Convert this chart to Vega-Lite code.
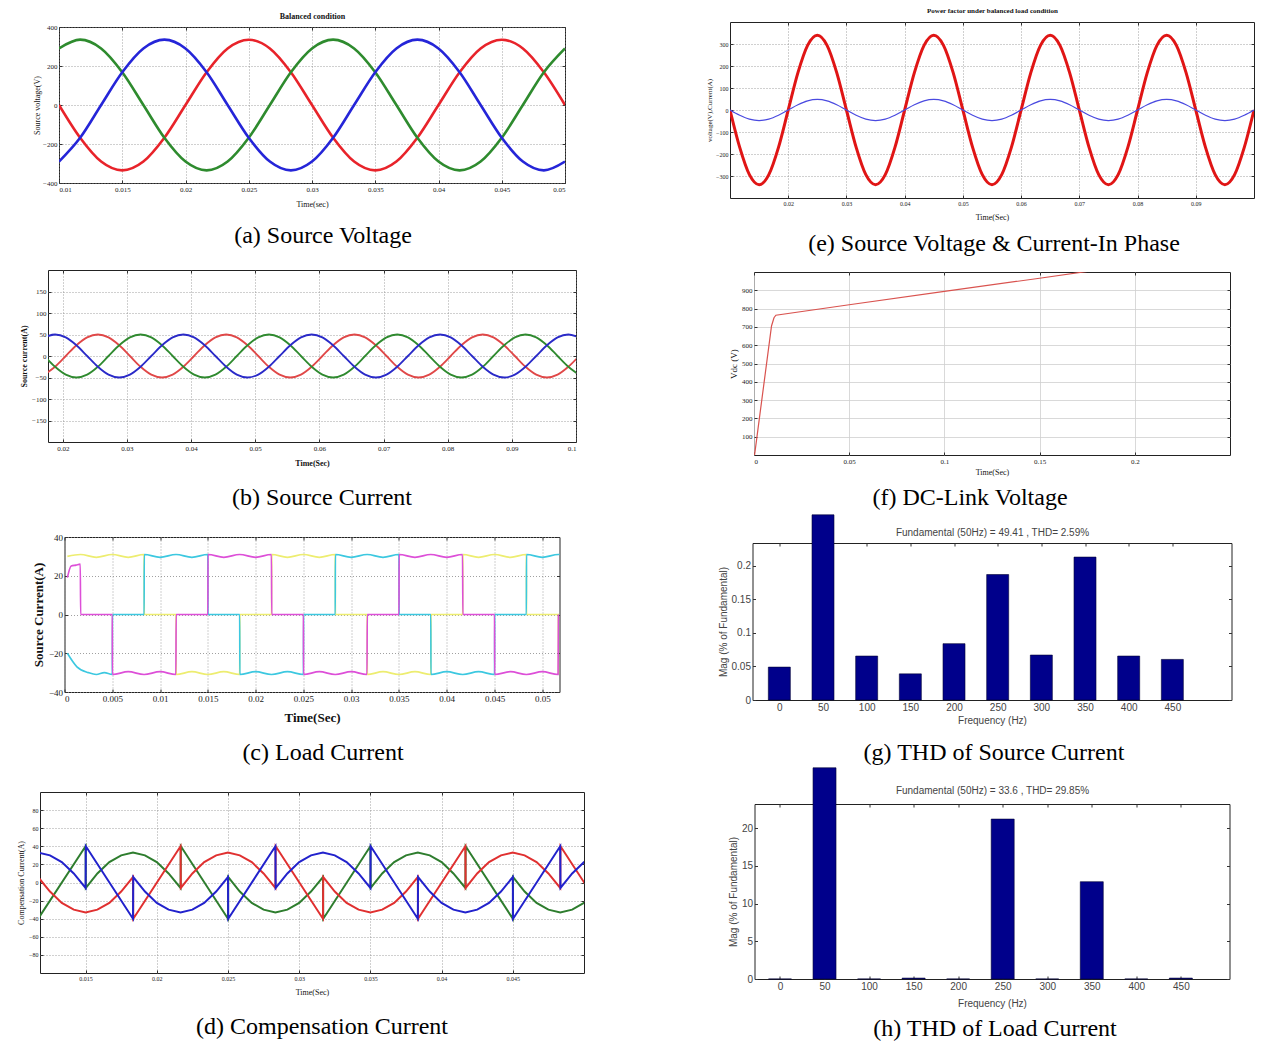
{
"$schema":"https://vega.github.io/schema/vega-lite/v6.json",
"autosize":{"type":"none"},
"padding":{"left":10,"top":2,"right":1262,"bottom":1040},
"background":"white",
"config":{
"view":{"stroke":"#222","strokeWidth":1,"fill":"white"},
"axis":{"domain":false,"grid":true,"gridDash":[1,2],"gridColor":"#888","gridWidth":0.8,"ticks":true,"tickSize":-3,"tickColor":"#333","labelPadding":5,"labelFont":"Liberation Serif","labelFontSize":7,"labelColor":"#222","titleFont":"Liberation Serif","titleFontSize":8,"titleFontWeight":"normal","titleColor":"#111","titlePadding":3},
"title":{"font":"Liberation Serif","fontSize":24,"fontWeight":"normal","color":"#000","anchor":"middle","frame":"group"}
},
"spacing":66,
"resolve":{"scale":{"color":"independent","strokeWidth":"independent"}},
"hconcat":[
{"vconcat":[
{"data":{"values":[]},"mark":"point","width":604,"height":25,"view":{"stroke":null,"fill":null}},
{"width":506,"height":156,
"title":{"text":"(a)  Source Voltage","orient":"bottom","dx":11,"offset":16},
"data":{"values":[
{"t":0.01,"Va":0,"Vb":290,"Vc":-290},{"t":0.01167,"Va":-168,"Vb":335,"Vc":-168},{"t":0.01333,"Va":-290,"Vb":290,"Vc":0},{"t":0.015,"Va":-335,"Vb":168,"Vc":168},{"t":0.01667,"Va":-290,"Vb":0,"Vc":290},{"t":0.01833,"Va":-168,"Vb":-168,"Vc":335},{"t":0.02,"Va":0,"Vb":-290,"Vc":290},{"t":0.02167,"Va":168,"Vb":-335,"Vc":168},{"t":0.02333,"Va":290,"Vb":-290,"Vc":0},{"t":0.025,"Va":335,"Vb":-168,"Vc":-168},{"t":0.02667,"Va":290,"Vb":0,"Vc":-290},{"t":0.02833,"Va":168,"Vb":168,"Vc":-335},
{"t":0.03,"Va":0,"Vb":290,"Vc":-290},{"t":0.03167,"Va":-168,"Vb":335,"Vc":-168},{"t":0.03333,"Va":-290,"Vb":290,"Vc":0},{"t":0.035,"Va":-335,"Vb":168,"Vc":168},{"t":0.03667,"Va":-290,"Vb":0,"Vc":290},{"t":0.03833,"Va":-168,"Vb":-168,"Vc":335},{"t":0.04,"Va":0,"Vb":-290,"Vc":290},{"t":0.04167,"Va":168,"Vb":-335,"Vc":168},{"t":0.04333,"Va":290,"Vb":-290,"Vc":0},{"t":0.045,"Va":335,"Vb":-168,"Vc":-168},{"t":0.04667,"Va":290,"Vb":0,"Vc":-290},{"t":0.04833,"Va":168,"Vb":168,"Vc":-335},{"t":0.05,"Va":0,"Vb":290,"Vc":-290}
]},
"transform":[{"fold":["Va","Vb","Vc"],"as":["ph","v"]}],
"layer":[
{"mark":{"type":"line","interpolate":"monotone","strokeWidth":2.6,"clip":true},
"encoding":{
"x":{"field":"t","type":"quantitative","scale":{"domain":[0.01,0.05],"nice":false,"zero":false},"axis":{"title":"Time(sec)","titlePadding":8,"values":[0.01,0.015,0.02,0.025,0.03,0.035,0.04,0.045,0.05],"format":"~g"}},
"y":{"field":"v","type":"quantitative","scale":{"domain":[-400,400],"nice":false},"axis":{"title":"Source voltage(V)","titlePadding":1,"values":[-400,-200,0,200,400]}},
"color":{"field":"ph","type":"nominal","scale":{"domain":["Va","Vb","Vc"],"range":["#e8232a","#2e8b2e","#2525d8"]},"legend":null}}},
{"mark":{"type":"line","strokeOpacity":0},
"encoding":{
"x":{"field":"t","type":"quantitative","scale":{"domain":[0.01,0.05],"nice":false,"zero":false},"axis":{"orient":"top","labels":false,"grid":false,"title":"Balanced condition","titleFontWeight":"bold","titlePadding":6,"values":[0.01,0.015,0.02,0.025,0.03,0.035,0.04,0.045,0.05]}},
"y":{"field":"v","type":"quantitative","scale":{"domain":[-400,400],"nice":false},"axis":{"orient":"right","labels":false,"grid":false,"title":null,"values":[-400,-200,0,200,400]}}}}
],
"resolve":{"axis":{"x":"independent","y":"independent"}}},
{"data":{"values":[]},"mark":"point","width":1,"height":87,"view":{"stroke":null,"fill":null}},
{"width":528,"height":172,
"title":{"text":"(b)  Source Current","orient":"bottom","dx":10,"offset":19},
"data":{"values":[
{"t":0.01713,"Ia":-43.3,"Ib":0,"Ic":43.3},{"t":0.0188,"Ia":-25,"Ib":-25,"Ic":50},{"t":0.02047,"Ia":0,"Ib":-43.3,"Ic":43.3},{"t":0.02213,"Ia":25,"Ib":-50,"Ic":25},{"t":0.0238,"Ia":43.3,"Ib":-43.3,"Ic":0},{"t":0.02547,"Ia":50,"Ib":-25,"Ic":-25},{"t":0.02713,"Ia":43.3,"Ib":0,"Ic":-43.3},{"t":0.0288,"Ia":25,"Ib":25,"Ic":-50},{"t":0.03047,"Ia":0,"Ib":43.3,"Ic":-43.3},{"t":0.03213,"Ia":-25,"Ib":50,"Ic":-25},{"t":0.0338,"Ia":-43.3,"Ib":43.3,"Ic":0},{"t":0.03547,"Ia":-50,"Ib":25,"Ic":25},
{"t":0.03713,"Ia":-43.3,"Ib":0,"Ic":43.3},{"t":0.0388,"Ia":-25,"Ib":-25,"Ic":50},{"t":0.04047,"Ia":0,"Ib":-43.3,"Ic":43.3},{"t":0.04213,"Ia":25,"Ib":-50,"Ic":25},{"t":0.0438,"Ia":43.3,"Ib":-43.3,"Ic":0},{"t":0.04547,"Ia":50,"Ib":-25,"Ic":-25},{"t":0.04713,"Ia":43.3,"Ib":0,"Ic":-43.3},{"t":0.0488,"Ia":25,"Ib":25,"Ic":-50},{"t":0.05047,"Ia":0,"Ib":43.3,"Ic":-43.3},{"t":0.05213,"Ia":-25,"Ib":50,"Ic":-25},{"t":0.0538,"Ia":-43.3,"Ib":43.3,"Ic":0},{"t":0.05547,"Ia":-50,"Ib":25,"Ic":25},
{"t":0.05713,"Ia":-43.3,"Ib":0,"Ic":43.3},{"t":0.0588,"Ia":-25,"Ib":-25,"Ic":50},{"t":0.06047,"Ia":0,"Ib":-43.3,"Ic":43.3},{"t":0.06213,"Ia":25,"Ib":-50,"Ic":25},{"t":0.0638,"Ia":43.3,"Ib":-43.3,"Ic":0},{"t":0.06547,"Ia":50,"Ib":-25,"Ic":-25},{"t":0.06713,"Ia":43.3,"Ib":0,"Ic":-43.3},{"t":0.0688,"Ia":25,"Ib":25,"Ic":-50},{"t":0.07047,"Ia":0,"Ib":43.3,"Ic":-43.3},{"t":0.07213,"Ia":-25,"Ib":50,"Ic":-25},{"t":0.0738,"Ia":-43.3,"Ib":43.3,"Ic":0},{"t":0.07547,"Ia":-50,"Ib":25,"Ic":25},
{"t":0.07713,"Ia":-43.3,"Ib":0,"Ic":43.3},{"t":0.0788,"Ia":-25,"Ib":-25,"Ic":50},{"t":0.08047,"Ia":0,"Ib":-43.3,"Ic":43.3},{"t":0.08213,"Ia":25,"Ib":-50,"Ic":25},{"t":0.0838,"Ia":43.3,"Ib":-43.3,"Ic":0},{"t":0.08547,"Ia":50,"Ib":-25,"Ic":-25},{"t":0.08713,"Ia":43.3,"Ib":0,"Ic":-43.3},{"t":0.0888,"Ia":25,"Ib":25,"Ic":-50},{"t":0.09047,"Ia":0,"Ib":43.3,"Ic":-43.3},{"t":0.09213,"Ia":-25,"Ib":50,"Ic":-25},{"t":0.0938,"Ia":-43.3,"Ib":43.3,"Ic":0},{"t":0.09547,"Ia":-50,"Ib":25,"Ic":25},
{"t":0.09713,"Ia":-43.3,"Ib":0,"Ic":43.3},{"t":0.0988,"Ia":-25,"Ib":-25,"Ic":50},{"t":0.10047,"Ia":0,"Ib":-43.3,"Ic":43.3}
]},
"transform":[{"fold":["Ia","Ib","Ic"],"as":["ph","v"]}],
"layer":[
{"mark":{"type":"line","interpolate":"monotone","strokeWidth":1.8,"clip":true},
"encoding":{
"x":{"field":"t","type":"quantitative","scale":{"domain":[0.0177,0.1],"nice":false,"zero":false},"axis":{"title":"Time(Sec)","titleFontWeight":"bold","titlePadding":8,"values":[0.02,0.03,0.04,0.05,0.06,0.07,0.08,0.09,0.1],"format":"~g"}},
"y":{"field":"v","type":"quantitative","scale":{"domain":[-200,200],"nice":false},"axis":{"title":"Source current(A)","titleFontWeight":"bold","values":[-150,-100,-50,0,50,100,150]}},
"color":{"field":"ph","type":"nominal","scale":{"domain":["Ia","Ib","Ic"],"range":["#e04848","#2f8a2f","#2a2ac8"]},"legend":null}}},
{"mark":{"type":"line","strokeOpacity":0},
"encoding":{
"x":{"field":"t","type":"quantitative","scale":{"domain":[0.0177,0.1],"nice":false,"zero":false},"axis":{"orient":"top","labels":false,"grid":false,"title":null,"values":[0.02,0.03,0.04,0.05,0.06,0.07,0.08,0.09,0.1]}},
"y":{"field":"v","type":"quantitative","scale":{"domain":[-200,200],"nice":false},"axis":{"orient":"right","labels":false,"grid":false,"title":null,"values":[-150,-100,-50,0,50,100,150]}}}}
],
"resolve":{"axis":{"x":"independent","y":"independent"}}},
{"data":{"values":[]},"mark":"point","width":1,"height":95,"view":{"stroke":null,"fill":null}},
{"width":495,"height":155,
"title":{"text":"(c)  Load Current","orient":"bottom","dx":11,"offset":17},
"data":{"values":[
{"s":"y","t":0.0003,"v":30},{"s":"y","t":0.00167,"v":31},{"s":"y","t":0.00333,"v":29.5},{"s":"y","t":0.005,"v":31},{"s":"y","t":0.00667,"v":29.5},{"s":"y","t":0.00833,"v":31},{"s":"y","t":0.00835,"v":0},{"s":"y","t":0.01167,"v":0},{"s":"y","t":0.01169,"v":-31},{"s":"y","t":0.01333,"v":-29.5},{"s":"y","t":0.015,"v":-31},{"s":"y","t":0.01667,"v":-29.5},{"s":"y","t":0.01833,"v":-31},{"s":"y","t":0.01835,"v":0},{"s":"y","t":0.02167,"v":0},{"s":"y","t":0.02169,"v":31},{"s":"y","t":0.02333,"v":29.5},{"s":"y","t":0.025,"v":31},{"s":"y","t":0.02667,"v":29.5},{"s":"y","t":0.02833,"v":31},{"s":"y","t":0.02835,"v":0},{"s":"y","t":0.03167,"v":0},{"s":"y","t":0.03169,"v":-31},{"s":"y","t":0.03333,"v":-29.5},{"s":"y","t":0.035,"v":-31},{"s":"y","t":0.03667,"v":-29.5},{"s":"y","t":0.03833,"v":-31},{"s":"y","t":0.03835,"v":0},{"s":"y","t":0.04167,"v":0},{"s":"y","t":0.04169,"v":31},{"s":"y","t":0.04333,"v":29.5},{"s":"y","t":0.045,"v":31},{"s":"y","t":0.04667,"v":29.5},{"s":"y","t":0.04833,"v":31},{"s":"y","t":0.04835,"v":0},{"s":"y","t":0.05167,"v":0},{"s":"y","t":0.05169,"v":-31},
{"s":"c","t":0.0003,"v":-20},{"s":"c","t":0.0013,"v":-27},{"s":"c","t":0.0025,"v":-30},{"s":"c","t":0.00333,"v":-31},{"s":"c","t":0.00417,"v":-30},{"s":"c","t":0.005,"v":-31},{"s":"c","t":0.00502,"v":0},{"s":"c","t":0.00833,"v":0},{"s":"c","t":0.00835,"v":31},{"s":"c","t":0.01,"v":29.5},{"s":"c","t":0.01167,"v":31},{"s":"c","t":0.01333,"v":29.5},{"s":"c","t":0.015,"v":31},{"s":"c","t":0.01502,"v":0},{"s":"c","t":0.01833,"v":0},{"s":"c","t":0.01835,"v":-31},{"s":"c","t":0.02,"v":-29.5},{"s":"c","t":0.02167,"v":-31},{"s":"c","t":0.02333,"v":-29.5},{"s":"c","t":0.025,"v":-31},{"s":"c","t":0.02502,"v":0},{"s":"c","t":0.02833,"v":0},{"s":"c","t":0.02835,"v":31},{"s":"c","t":0.03,"v":29.5},{"s":"c","t":0.03167,"v":31},{"s":"c","t":0.03333,"v":29.5},{"s":"c","t":0.035,"v":31},{"s":"c","t":0.03502,"v":0},{"s":"c","t":0.03833,"v":0},{"s":"c","t":0.03835,"v":-31},{"s":"c","t":0.04,"v":-29.5},{"s":"c","t":0.04167,"v":-31},{"s":"c","t":0.04333,"v":-29.5},{"s":"c","t":0.045,"v":-31},{"s":"c","t":0.04502,"v":0},{"s":"c","t":0.04833,"v":0},{"s":"c","t":0.04835,"v":31},{"s":"c","t":0.05,"v":29.5},{"s":"c","t":0.05167,"v":31},{"s":"c","t":0.05333,"v":29.5},
{"s":"m","t":0.0003,"v":19},{"s":"m","t":0.0007,"v":25},{"s":"m","t":0.0012,"v":25.5},{"s":"m","t":0.00165,"v":26},{"s":"m","t":0.00169,"v":0},{"s":"m","t":0.005,"v":0},{"s":"m","t":0.00502,"v":-31},{"s":"m","t":0.00667,"v":-29.5},{"s":"m","t":0.00833,"v":-31},{"s":"m","t":0.01,"v":-29.5},{"s":"m","t":0.01165,"v":-31},{"s":"m","t":0.01169,"v":0},{"s":"m","t":0.015,"v":0},{"s":"m","t":0.01502,"v":31},{"s":"m","t":0.01667,"v":29.5},{"s":"m","t":0.01833,"v":31},{"s":"m","t":0.02,"v":29.5},{"s":"m","t":0.02165,"v":31},{"s":"m","t":0.02169,"v":0},{"s":"m","t":0.025,"v":0},{"s":"m","t":0.02502,"v":-31},{"s":"m","t":0.02667,"v":-29.5},{"s":"m","t":0.02833,"v":-31},{"s":"m","t":0.03,"v":-29.5},{"s":"m","t":0.03165,"v":-31},{"s":"m","t":0.03169,"v":0},{"s":"m","t":0.035,"v":0},{"s":"m","t":0.03502,"v":31},{"s":"m","t":0.03667,"v":29.5},{"s":"m","t":0.03833,"v":31},{"s":"m","t":0.04,"v":29.5},{"s":"m","t":0.04165,"v":31},{"s":"m","t":0.04169,"v":0},{"s":"m","t":0.045,"v":0},{"s":"m","t":0.04502,"v":-31},{"s":"m","t":0.04667,"v":-29.5},{"s":"m","t":0.04833,"v":-31},{"s":"m","t":0.05,"v":-29.5},{"s":"m","t":0.05165,"v":-31},{"s":"m","t":0.05169,"v":0}
]},
"layer":[
{"mark":{"type":"line","interpolate":"monotone","strokeWidth":1.6,"clip":true},
"encoding":{
"x":{"field":"t","type":"quantitative","scale":{"domain":[0,0.0518],"nice":false,"zero":false},"axis":{"title":"Time(Sec)","titleFontWeight":"bold","titleFontSize":13,"titlePadding":8,"labelFontSize":9,"values":[0,0.005,0.01,0.015,0.02,0.025,0.03,0.035,0.04,0.045,0.05],"format":"~g"}},
"y":{"field":"v","type":"quantitative","scale":{"domain":[-40,40],"nice":false},"axis":{"title":"Source Current(A)","titleFontWeight":"bold","titleFontSize":13,"labelFontSize":9,"values":[-40,-20,0,20,40]}},
"color":{"field":"s","type":"nominal","scale":{"domain":["y","c","m"],"range":["#eded70","#3cc8e0","#dd4fd8"]},"legend":null}}},
{"mark":{"type":"line","strokeOpacity":0},
"encoding":{
"x":{"field":"t","type":"quantitative","scale":{"domain":[0,0.0518],"nice":false,"zero":false},"axis":{"orient":"top","labels":false,"grid":false,"title":null,"values":[0,0.005,0.01,0.015,0.02,0.025,0.03,0.035,0.04,0.045,0.05]}},
"y":{"field":"v","type":"quantitative","scale":{"domain":[-40,40],"nice":false},"axis":{"orient":"right","labels":false,"grid":false,"title":null,"values":[-40,-20,0,20,40]}}}}
],
"resolve":{"axis":{"x":"independent","y":"independent"}}},
{"data":{"values":[]},"mark":"point","width":1,"height":100,"view":{"stroke":null,"fill":null}},
{"width":544,"height":181,
"title":{"text":"(d)  Compensation Current","orient":"bottom","dx":10,"offset":19},
"data":{"values":[
{"s":"G","t":0.01167,"v":-40},{"s":"G","t":0.015,"v":40},{"s":"G","t":0.01502,"v":-6},{"s":"G","t":0.01583,"v":10},{"s":"G","t":0.01667,"v":22.5},{"s":"G","t":0.0175,"v":30},{"s":"G","t":0.01833,"v":33},{"s":"G","t":0.01917,"v":30},{"s":"G","t":0.02,"v":22.5},{"s":"G","t":0.02083,"v":10},{"s":"G","t":0.02167,"v":-6},{"s":"G","t":0.02169,"v":40},{"s":"G","t":0.025,"v":-40},{"s":"G","t":0.02502,"v":6},{"s":"G","t":0.02583,"v":-10},{"s":"G","t":0.02667,"v":-22.5},{"s":"G","t":0.0275,"v":-30},{"s":"G","t":0.02833,"v":-33},{"s":"G","t":0.02917,"v":-30},{"s":"G","t":0.03,"v":-22.5},{"s":"G","t":0.03083,"v":-10},{"s":"G","t":0.03167,"v":6},{"s":"G","t":0.03169,"v":-40},{"s":"G","t":0.035,"v":40},{"s":"G","t":0.03502,"v":-6},{"s":"G","t":0.03583,"v":10},{"s":"G","t":0.03667,"v":22.5},{"s":"G","t":0.0375,"v":30},{"s":"G","t":0.03833,"v":33},{"s":"G","t":0.03917,"v":30},{"s":"G","t":0.04,"v":22.5},{"s":"G","t":0.04083,"v":10},{"s":"G","t":0.04167,"v":-6},{"s":"G","t":0.04169,"v":40},{"s":"G","t":0.045,"v":-40},{"s":"G","t":0.04502,"v":6},{"s":"G","t":0.04583,"v":-10},{"s":"G","t":0.04667,"v":-22.5},{"s":"G","t":0.0475,"v":-30},{"s":"G","t":0.04833,"v":-33},{"s":"G","t":0.04917,"v":-30},{"s":"G","t":0.05,"v":-22.5},{"s":"G","t":0.05083,"v":-10},
{"s":"R","t":0.01167,"v":6},{"s":"R","t":0.0125,"v":-10},{"s":"R","t":0.01333,"v":-22.5},{"s":"R","t":0.01417,"v":-30},{"s":"R","t":0.015,"v":-33},{"s":"R","t":0.01583,"v":-30},{"s":"R","t":0.01667,"v":-22.5},{"s":"R","t":0.0175,"v":-10},{"s":"R","t":0.01833,"v":6},{"s":"R","t":0.01835,"v":-40},{"s":"R","t":0.02167,"v":40},{"s":"R","t":0.02169,"v":-6},{"s":"R","t":0.0225,"v":10},{"s":"R","t":0.02333,"v":22.5},{"s":"R","t":0.02417,"v":30},{"s":"R","t":0.025,"v":33},{"s":"R","t":0.02583,"v":30},{"s":"R","t":0.02667,"v":22.5},{"s":"R","t":0.0275,"v":10},{"s":"R","t":0.02833,"v":-6},{"s":"R","t":0.02835,"v":40},{"s":"R","t":0.03167,"v":-40},{"s":"R","t":0.03169,"v":6},{"s":"R","t":0.0325,"v":-10},{"s":"R","t":0.03333,"v":-22.5},{"s":"R","t":0.03417,"v":-30},{"s":"R","t":0.035,"v":-33},{"s":"R","t":0.03583,"v":-30},{"s":"R","t":0.03667,"v":-22.5},{"s":"R","t":0.0375,"v":-10},{"s":"R","t":0.03833,"v":6},{"s":"R","t":0.03835,"v":-40},{"s":"R","t":0.04167,"v":40},{"s":"R","t":0.04169,"v":-6},{"s":"R","t":0.0425,"v":10},{"s":"R","t":0.04333,"v":22.5},{"s":"R","t":0.04417,"v":30},{"s":"R","t":0.045,"v":33},{"s":"R","t":0.04583,"v":30},{"s":"R","t":0.04667,"v":22.5},{"s":"R","t":0.0475,"v":10},{"s":"R","t":0.04833,"v":-6},{"s":"R","t":0.04835,"v":40},{"s":"R","t":0.05167,"v":-40},
{"s":"B","t":0.01083,"v":30},{"s":"B","t":0.01167,"v":33},{"s":"B","t":0.0125,"v":30},{"s":"B","t":0.01333,"v":22.5},{"s":"B","t":0.01417,"v":10},{"s":"B","t":0.015,"v":-6},{"s":"B","t":0.01502,"v":40},{"s":"B","t":0.01833,"v":-40},{"s":"B","t":0.01835,"v":6},{"s":"B","t":0.01917,"v":-10},{"s":"B","t":0.02,"v":-22.5},{"s":"B","t":0.02083,"v":-30},{"s":"B","t":0.02167,"v":-33},{"s":"B","t":0.0225,"v":-30},{"s":"B","t":0.02333,"v":-22.5},{"s":"B","t":0.02417,"v":-10},{"s":"B","t":0.025,"v":6},{"s":"B","t":0.02502,"v":-40},{"s":"B","t":0.02833,"v":40},{"s":"B","t":0.02835,"v":-6},{"s":"B","t":0.02917,"v":10},{"s":"B","t":0.03,"v":22.5},{"s":"B","t":0.03083,"v":30},{"s":"B","t":0.03167,"v":33},{"s":"B","t":0.0325,"v":30},{"s":"B","t":0.03333,"v":22.5},{"s":"B","t":0.03417,"v":10},{"s":"B","t":0.035,"v":-6},{"s":"B","t":0.03502,"v":40},{"s":"B","t":0.03833,"v":-40},{"s":"B","t":0.03835,"v":6},{"s":"B","t":0.03917,"v":-10},{"s":"B","t":0.04,"v":-22.5},{"s":"B","t":0.04083,"v":-30},{"s":"B","t":0.04167,"v":-33},{"s":"B","t":0.0425,"v":-30},{"s":"B","t":0.04333,"v":-22.5},{"s":"B","t":0.04417,"v":-10},{"s":"B","t":0.045,"v":6},{"s":"B","t":0.04502,"v":-40},{"s":"B","t":0.04833,"v":40},{"s":"B","t":0.04835,"v":-6},{"s":"B","t":0.04917,"v":10},{"s":"B","t":0.05,"v":22.5},{"s":"B","t":0.05083,"v":30}
]},
"layer":[
{"mark":{"type":"line","strokeWidth":2,"clip":true},
"encoding":{
"x":{"field":"t","type":"quantitative","scale":{"domain":[0.0118,0.05],"nice":false,"zero":false},"axis":{"title":"Time(Sec)","titlePadding":7,"labelFontSize":6,"values":[0.015,0.02,0.025,0.03,0.035,0.04,0.045],"format":"~g"}},
"y":{"field":"v","type":"quantitative","scale":{"domain":[-100,100],"nice":false},"axis":{"title":"Compensation Current(A)","labelFontSize":6,"values":[-80,-60,-40,-20,0,20,40,60,80]}},
"color":{"field":"s","type":"nominal","scale":{"domain":["G","R","B"],"range":["#2e7d2e","#e03030","#2222cc"]},"legend":null}}},
{"mark":{"type":"line","strokeOpacity":0},
"encoding":{
"x":{"field":"t","type":"quantitative","scale":{"domain":[0.0118,0.05],"nice":false,"zero":false},"axis":{"orient":"top","labels":false,"grid":false,"title":null,"values":[0.015,0.02,0.025,0.03,0.035,0.04,0.045]}},
"y":{"field":"v","type":"quantitative","scale":{"domain":[-100,100],"nice":false},"axis":{"orient":"right","labels":false,"grid":false,"title":null,"values":[-80,-60,-40,-20,0,20,40,60,80]}}}}
],
"resolve":{"axis":{"x":"independent","y":"independent"}}}
],"spacing":0,"bounds":"flush","center":true,"resolve":{"scale":{"color":"independent","strokeWidth":"independent"}}},
{"vconcat":[
{"data":{"values":[]},"mark":"point","width":624,"height":20,"view":{"stroke":null,"fill":null}},
{"width":524,"height":176,
"title":{"text":"(e)  Source Voltage & Current-In Phase","orient":"bottom","dx":2,"offset":11},
"data":{"values":[
{"t":0.01,"V":0,"I":0},{"t":0.01167,"V":-170,"I":-24},{"t":0.01333,"V":-294,"I":-41.6},{"t":0.015,"V":-340,"I":-48},{"t":0.01667,"V":-294,"I":-41.6},{"t":0.01833,"V":-170,"I":-24},{"t":0.02,"V":0,"I":0},{"t":0.02167,"V":170,"I":24},{"t":0.02333,"V":294,"I":41.6},{"t":0.025,"V":340,"I":48},{"t":0.02667,"V":294,"I":41.6},{"t":0.02833,"V":170,"I":24},
{"t":0.03,"V":0,"I":0},{"t":0.03167,"V":-170,"I":-24},{"t":0.03333,"V":-294,"I":-41.6},{"t":0.035,"V":-340,"I":-48},{"t":0.03667,"V":-294,"I":-41.6},{"t":0.03833,"V":-170,"I":-24},{"t":0.04,"V":0,"I":0},{"t":0.04167,"V":170,"I":24},{"t":0.04333,"V":294,"I":41.6},{"t":0.045,"V":340,"I":48},{"t":0.04667,"V":294,"I":41.6},{"t":0.04833,"V":170,"I":24},
{"t":0.05,"V":0,"I":0},{"t":0.05167,"V":-170,"I":-24},{"t":0.05333,"V":-294,"I":-41.6},{"t":0.055,"V":-340,"I":-48},{"t":0.05667,"V":-294,"I":-41.6},{"t":0.05833,"V":-170,"I":-24},{"t":0.06,"V":0,"I":0},{"t":0.06167,"V":170,"I":24},{"t":0.06333,"V":294,"I":41.6},{"t":0.065,"V":340,"I":48},{"t":0.06667,"V":294,"I":41.6},{"t":0.06833,"V":170,"I":24},
{"t":0.07,"V":0,"I":0},{"t":0.07167,"V":-170,"I":-24},{"t":0.07333,"V":-294,"I":-41.6},{"t":0.075,"V":-340,"I":-48},{"t":0.07667,"V":-294,"I":-41.6},{"t":0.07833,"V":-170,"I":-24},{"t":0.08,"V":0,"I":0},{"t":0.08167,"V":170,"I":24},{"t":0.08333,"V":294,"I":41.6},{"t":0.085,"V":340,"I":48},{"t":0.08667,"V":294,"I":41.6},{"t":0.08833,"V":170,"I":24},
{"t":0.09,"V":0,"I":0},{"t":0.09167,"V":-170,"I":-24},{"t":0.09333,"V":-294,"I":-41.6},{"t":0.095,"V":-340,"I":-48},{"t":0.09667,"V":-294,"I":-41.6},{"t":0.09833,"V":-170,"I":-24},{"t":0.1,"V":0,"I":0}
]},
"transform":[{"fold":["V","I"],"as":["q","v"]}],
"layer":[
{"mark":{"type":"line","interpolate":"monotone","clip":true},
"encoding":{
"x":{"field":"t","type":"quantitative","scale":{"domain":[0.01,0.1],"nice":false,"zero":false},"axis":{"title":"Time(Sec)","titlePadding":7,"labelFontSize":6,"values":[0.02,0.03,0.04,0.05,0.06,0.07,0.08,0.09],"format":"~g"}},
"y":{"field":"v","type":"quantitative","scale":{"domain":[-400,400],"nice":false},"axis":{"title":"voltage(V),Current(A)","titleFontSize":7,"labelFontSize":6,"values":[-300,-200,-100,0,100,200,300]}},
"color":{"field":"q","type":"nominal","scale":{"domain":["V","I"],"range":["#e01515","#4a4ae0"]},"legend":null},
"strokeWidth":{"field":"q","type":"nominal","scale":{"domain":["V","I"],"range":[3,1.2]},"legend":null}}},
{"mark":{"type":"line","strokeOpacity":0},
"encoding":{
"x":{"field":"t","type":"quantitative","scale":{"domain":[0.01,0.1],"nice":false,"zero":false},"axis":{"orient":"top","labels":false,"grid":false,"title":"Power factor under balanced load condition","titleFontSize":7,"titleFontWeight":"bold","titlePadding":8,"values":[0.02,0.03,0.04,0.05,0.06,0.07,0.08,0.09]}},
"y":{"field":"v","type":"quantitative","scale":{"domain":[-400,400],"nice":false},"axis":{"orient":"right","labels":false,"grid":false,"title":null,"values":[-300,-200,-100,0,100,200,300]}}}}
],
"resolve":{"axis":{"x":"independent","y":"independent"}}},
{"data":{"values":[]},"mark":"point","width":1,"height":74,"view":{"stroke":null,"fill":null}},
{"width":476,"height":183,
"title":{"text":"(f)  DC-Link Voltage","orient":"bottom","dx":-22,"offset":10},
"data":{"values":[
{"t":0.0003,"v":0},{"t":0.0015,"v":95},{"t":0.0092,"v":705},{"t":0.0105,"v":750},{"t":0.0115,"v":764},{"t":0.05,"v":821},{"t":0.1,"v":894},{"t":0.15,"v":966},{"t":0.175,"v":1003}
]},
"layer":[
{"mark":{"type":"line","color":"#d9534f","strokeWidth":1.2,"clip":true},
"encoding":{
"x":{"field":"t","type":"quantitative","scale":{"domain":[0,0.25],"nice":false,"zero":false},"axis":{"title":"Time(Sec)","titlePadding":4,"gridDash":[],"gridColor":"#cfcfcf","values":[0,0.05,0.1,0.15,0.2],"format":"~g"}},
"y":{"field":"v","type":"quantitative","scale":{"domain":[0,1000],"nice":false},"axis":{"title":"Vdc (V)","titleFontSize":9,"gridDash":[],"gridColor":"#cfcfcf","values":[100,200,300,400,500,600,700,800,900]}}}},
{"mark":{"type":"line","strokeOpacity":0},
"encoding":{
"x":{"field":"t","type":"quantitative","scale":{"domain":[0,0.25],"nice":false,"zero":false},"axis":{"orient":"top","labels":false,"grid":false,"title":null,"values":[0,0.05,0.1,0.15,0.2]}},
"y":{"field":"v","type":"quantitative","scale":{"domain":[0,1000],"nice":false},"axis":{"orient":"right","labels":false,"grid":false,"title":null,"values":[100,200,300,400,500,600,700,800,900]}}}}
],
"resolve":{"axis":{"x":"independent","y":"independent"}}},
{"data":{"values":[]},"mark":"point","width":1,"height":88,"view":{"stroke":null,"fill":null}},
{"width":479,"height":157,
"title":{"text":"(g)  THD of Source Current","orient":"bottom","dx":2,"offset":16},
"data":{"values":[
{"f":0,"m":0.049},{"f":50,"m":0.276},{"f":100,"m":0.0655},{"f":150,"m":0.039},{"f":200,"m":0.084},{"f":250,"m":0.187},{"f":300,"m":0.067},{"f":350,"m":0.213},{"f":400,"m":0.0655},{"f":450,"m":0.0605}
]},
"layer":[
{"mark":{"type":"bar","size":22,"color":"#00008b","stroke":"#000033","strokeWidth":0.6},
"encoding":{
"x":{"field":"f","type":"quantitative","scale":{"domain":[-25,512],"nice":false,"zero":false},"axis":{"title":"Frequency (Hz)","grid":false,"labelFont":"Liberation Sans","labelFontSize":10,"labelColor":"#444","titleFont":"Liberation Sans","titleFontSize":10,"titleColor":"#444","values":[0,50,100,150,200,250,300,350,400,450]}},
"y":{"field":"m","type":"quantitative","scale":{"domain":[0,0.234],"nice":false},"axis":{"title":"Mag (% of Fundamental)","grid":false,"labelFont":"Liberation Sans","labelFontSize":10,"labelColor":"#444","titleFont":"Liberation Sans","titleFontSize":10,"titleColor":"#444","values":[0,0.05,0.1,0.15,0.2],"format":"~g"}}}},
{"mark":{"type":"point","opacity":0},
"encoding":{
"x":{"field":"f","type":"quantitative","scale":{"domain":[-25,512],"nice":false,"zero":false},"axis":{"orient":"top","labels":false,"grid":false,"title":"Fundamental (50Hz) = 49.41 , THD= 2.59%","titleFont":"Liberation Sans","titleFontSize":10,"titleColor":"#444","titlePadding":5,"values":[0,50,100,150,200,250,300,350,400,450]}},
"y":{"field":"m","type":"quantitative","scale":{"domain":[0,0.234],"nice":false},"axis":{"orient":"right","labels":false,"grid":false,"title":null,"values":[0,0.05,0.1,0.15,0.2]}}}}
],
"resolve":{"axis":{"x":"independent","y":"independent"}}},
{"data":{"values":[]},"mark":"point","width":1,"height":104,"view":{"stroke":null,"fill":null}},
{"width":475,"height":175,
"title":{"text":"(h)  THD of Load Current","orient":"bottom","dx":3,"offset":9},
"data":{"values":[
{"f":0,"m":0},{"f":50,"m":28},{"f":100,"m":0},{"f":150,"m":0.12},{"f":200,"m":0},{"f":250,"m":21.2},{"f":300,"m":0},{"f":350,"m":12.9},{"f":400,"m":0},{"f":450,"m":0.12}
]},
"layer":[
{"mark":{"type":"bar","size":23,"color":"#00008b","stroke":"#000033","strokeWidth":0.6},
"encoding":{
"x":{"field":"f","type":"quantitative","scale":{"domain":[-23,499],"nice":false,"zero":false},"axis":{"title":"Frequency (Hz)","titlePadding":7,"grid":false,"labelFont":"Liberation Sans","labelFontSize":10,"labelColor":"#444","titleFont":"Liberation Sans","titleFontSize":10,"titleColor":"#444","values":[0,50,100,150,200,250,300,350,400,450]}},
"y":{"field":"m","type":"quantitative","scale":{"domain":[0,23.2],"nice":false},"axis":{"title":"Mag (% of Fundamental)","grid":false,"labelFont":"Liberation Sans","labelFontSize":10,"labelColor":"#444","titleFont":"Liberation Sans","titleFontSize":10,"titleColor":"#444","values":[0,5,10,15,20]}}}},
{"mark":{"type":"point","opacity":0},
"encoding":{
"x":{"field":"f","type":"quantitative","scale":{"domain":[-23,499],"nice":false,"zero":false},"axis":{"orient":"top","labels":false,"grid":false,"title":"Fundamental (50Hz) = 33.6 , THD= 29.85%","titleFont":"Liberation Sans","titleFontSize":10,"titleColor":"#444","titlePadding":8,"values":[0,50,100,150,200,250,300,350,400,450]}},
"y":{"field":"m","type":"quantitative","scale":{"domain":[0,23.2],"nice":false},"axis":{"orient":"right","labels":false,"grid":false,"title":null,"values":[0,5,10,15,20]}}}}
],
"resolve":{"axis":{"x":"independent","y":"independent"}}}
],"spacing":0,"bounds":"flush","center":true,"resolve":{"scale":{"color":"independent","strokeWidth":"independent"}}}
]
}
